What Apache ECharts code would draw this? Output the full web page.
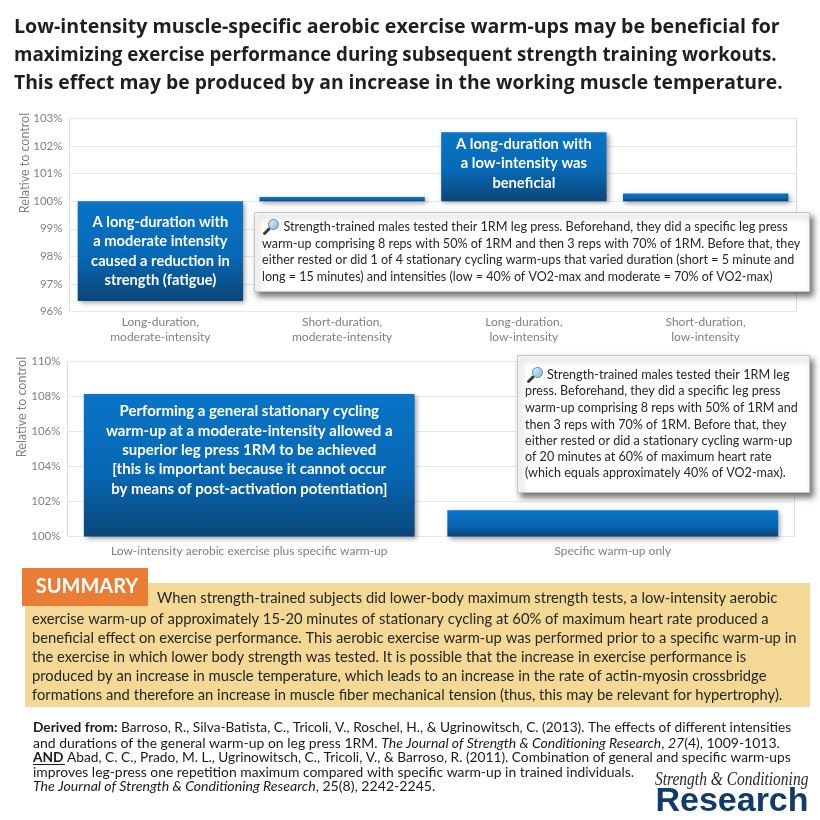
<!DOCTYPE html>
<html>
<head>
<meta charset="utf-8">
<title>Warm-ups</title>
<script src="https://cdn.jsdelivr.net/npm/echarts@6/dist/echarts.min.js"></script>
<style>
  html, body { margin: 0; padding: 0; background: #fff; }
  #main { width: 820px; height: 820px; }
</style>
</head>
<body>
<div id="main"></div>
<script>
// top chart
const topCategories = ['Long-duration,\nmoderate-intensity', 'Short-duration,\nmoderate-intensity', 'Long-duration,\nlow-intensity', 'Short-duration,\nlow-intensity'];
const topValues = [96.38, 100.15, 102.5, 100.28];
const topBarText = ['A long-duration with\na moderate intensity\ncaused a reduction in\nstrength (fatigue)', '', 'A long-duration with\na low-intensity was\nbeneficial', ''];
const topBarTextShift = [0, 0, -3, 0];

// bottom chart
const bottomCategories = ['Low-intensity aerobic exercise plus specific warm-up', 'Specific warm-up only'];
const bottomValues = [108.15, 101.5];
const bottomBarText = ['Performing a general stationary cycling\nwarm-up at a moderate-intensity allowed a\nsuperior leg press 1RM to be achieved\n[this is important because it cannot occur\nby means of post-activation potentiation]', ''];
const bottomBarTextShift = [-15, 0];

const titleLines = [
  'Low-intensity muscle-specific aerobic exercise warm-ups may be beneficial for',
  'maximizing exercise performance during subsequent strength training workouts.',
  'This effect may be produced by an increase in the working muscle temperature.'
];
const topNoteLines = [
  'Strength-trained males tested their 1RM leg press. Beforehand, they did a specific leg press',
  'warm-up comprising 8 reps with 50% of 1RM and then 3 reps with 70% of 1RM. Before that, they',
  'either rested or did 1 of 4 stationary cycling warm-ups that varied duration (short = 5 minute and',
  'long = 15 minutes) and intensities (low = 40% of VO2-max and moderate = 70% of VO2-max)'
];
const bottomNoteLines = [
  'Strength-trained males tested their 1RM leg',
  'press. Beforehand, they did a specific leg press',
  'warm-up comprising 8 reps with 50% of 1RM and',
  'then 3 reps with 70% of 1RM. Before that, they',
  'either rested or did a stationary cycling warm-up',
  'of 20 minutes at 60% of maximum heart rate',
  '(which equals approximately 40% of VO2-max).'
];
const summaryLines = [
  'When strength-trained subjects did lower-body maximum strength tests, a low-intensity aerobic',
  'exercise warm-up of approximately 15-20 minutes of stationary cycling at 60% of maximum heart rate produced a',
  'beneficial effect on exercise performance. This aerobic exercise warm-up was performed prior to a specific warm-up in',
  'the exercise in which lower body strength was tested. It is possible that the increase in exercise performance is',
  'produced by an increase in muscle temperature, which leads to an increase in the rate of actin-myosin crossbridge',
  'formations and therefore an increase in muscle fiber mechanical tension (thus, this may be relevant for hypertrophy).'
];
const citationLines = [
  '{b|Derived from:} Barroso, R., Silva-Batista, C., Tricoli, V., Roschel, H., & Ugrinowitsch, C. (2013). The effects of different intensities',
  'and durations of the general warm-up on leg press 1RM. {i|The Journal of Strength & Conditioning Research}, {i|27}(4), 1009-1013.',
  '{b|AND} Abad, C. C., Prado, M. L., Ugrinowitsch, C., Tricoli, V., & Barroso, R. (2011). Combination of general and specific warm-ups',
  'improves leg-press one repetition maximum compared with specific warm-up in trained individuals.',
  '{i|The Journal of Strength & Conditioning Research}, 25(8), 2242-2245.'
];

const bodyFont = 'Lato';
const tickColor = '#7f7f7f';

function barGradient() {
  return new echarts.graphic.LinearGradient(0, 0, 0, 1, [
    { offset: 0, color: '#0a74c6' },
    { offset: 0.55, color: '#0768b5' },
    { offset: 1, color: '#0b4678' }
  ]);
}

// bars start from 100%, so the axes run on the difference from 100
function barData(values, texts, shifts) {
  return values.map(function (v, i) {
    return {
      value: +(v - 100).toFixed(2),
      label: { formatter: texts[i], show: texts[i] !== '', offset: [0, shifts[i]] }
    };
  });
}

// scales squeezes each line to the width it has in the picture
function textLines(lines, x, ys, font, scales) {
  return lines.map(function (line, i) {
    return {
      type: 'text',
      z: 110,
      x: x[i] === undefined ? x[x.length - 1] : x[i],
      y: ys[i],
      scaleX: scales ? scales[i] : 1,
      style: Object.assign({
        text: line,
        fill: '#262626',
        verticalAlign: 'middle',
        fontFamily: bodyFont
      }, font)
    };
  });
}

function noteBox(x, y, w, h) {
  return {
    type: 'rect',
    z: 100,
    shape: { x: x, y: y, width: w, height: h },
    style: {
      fill: '#fff',
      stroke: '#c4c4c4',
      lineWidth: 1,
      shadowBlur: 6,
      shadowOffsetX: 3,
      shadowOffsetY: 4,
      shadowColor: 'rgba(0,0,0,0.55)'
    }
  };
}

function magnifier(x, y) {
  return {
    type: 'group',
    x: x,
    y: y,
    z: 110,
    children: [
      { type: 'line', z: 110, shape: { x1: 6, y1: 10, x2: 1.5, y2: 14.5 }, style: { stroke: '#3b3b3b', lineWidth: 3, lineCap: 'round' } },
      {
        type: 'circle', z: 111, shape: { cx: 10.5, cy: 5.5, r: 5 },
        style: {
          fill: new echarts.graphic.LinearGradient(0, 0, 1, 1, [
            { offset: 0, color: '#e4f2fb' },
            { offset: 1, color: '#7fb4dc' }
          ]),
          stroke: '#5f87a6',
          lineWidth: 1
        }
      }
    ]
  };
}

const graphics = [].concat(
  textLines(titleLines, [14], [27, 55, 83], { fontFamily: 'Open Sans', fontWeight: 'bold', fontSize: 19.6, fill: '#1f1f1f' }, [1, 0.958, 0.985]),
  [noteBox(254.5, 212.5, 555, 79)],
  [magnifier(263, 219)],
  textLines(topNoteLines, [283.5, 262], [227, 243.5, 260, 276.5], { fontSize: 13.3 }, [0.952, 0.945, 0.945, 0.94]),
  [noteBox(517.5, 355.5, 292, 137)],
  [magnifier(527, 367)],
  textLines(bottomNoteLines, [547, 525], [375, 391, 407.5, 424.5, 441, 457, 473], { fontSize: 13.3 }, [0.948, 0.945, 0.942, 0.945, 0.945, 0.945, 0.945]),
  [
    { type: 'rect', z: 100, shape: { x: 25, y: 583, width: 785, height: 124 }, style: { fill: '#f4d896' } },
    { type: 'rect', z: 101, shape: { x: 22, y: 568, width: 126, height: 38 }, style: { fill: '#ea7c34' } },
    { type: 'text', z: 110, x: 87, y: 587, style: { text: 'SUMMARY', fill: '#fff', fontFamily: bodyFont, fontWeight: 'bold', fontSize: 20, align: 'center', verticalAlign: 'middle' } }
  ],
  textLines(summaryLines, [157, 32], [598, 619, 638, 657, 676, 695], { fontSize: 15 }, [0.984, 0.985, 0.985, 0.985, 0.985, 0.985]),
  textLines(citationLines, [33], [728, 743.5, 758, 773, 787], {
    fontSize: 13.2,
    fill: '#1a1a1a',
    rich: {
      b: { fontWeight: 'bold', fontFamily: bodyFont, fontSize: 13.2, fill: '#1a1a1a' },
      i: { fontStyle: 'italic', fontFamily: bodyFont, fontSize: 13.2, fill: '#1a1a1a' }
    }
  }, [1.04, 1.06, 1.04, 1.053, 1.07]),
  [
    { type: 'line', z: 110, shape: { x1: 33, y1: 764.5, x2: 65, y2: 764.5 }, style: { stroke: '#1a1a1a', lineWidth: 1 } },
    { type: 'text', z: 110, x: 655, y: 780, scaleX: 0.86, style: { text: 'Strength & Conditioning', fill: '#2a2a2a', fontFamily: 'Liberation Serif', fontStyle: 'italic', fontSize: 18, verticalAlign: 'middle' } },
    { type: 'text', z: 110, x: 732, y: 802, style: { text: 'Research', fill: '#123a6b', fontFamily: 'Liberation Sans', fontWeight: 'bold', fontSize: 34, align: 'center', verticalAlign: 'middle' } }
  ]
);

function yAxis(gridIndex, min, max, interval, nameGap, nameShift) {
  return {
    type: 'value',
    gridIndex: gridIndex,
    min: min,
    max: max,
    interval: interval,
    name: 'Relative to control',
    nameLocation: 'middle',
    nameRotate: 90,
    nameGap: nameGap,
    nameMoveOverlap: false,
    // the title sits above the middle of the axis
    nameTextStyle: { color: tickColor, fontFamily: bodyFont, fontSize: 12.5, padding: [0, 0, 0, nameShift] },
    axisLine: { show: false },
    axisTick: { show: false },
    axisLabel: {
      color: tickColor,
      fontFamily: bodyFont,
      fontSize: 11.5,
      margin: 7,
      formatter: function (v) { return (100 + v) + '%'; }
    },
    splitLine: { lineStyle: { color: '#e8e8e8', width: 1 } }
  };
}

function xAxis(gridIndex, categories, margin) {
  return {
    type: 'category',
    gridIndex: gridIndex,
    data: categories,
    position: 'bottom',
    axisLine: { show: false, onZero: false },
    axisTick: { show: false },
    axisLabel: { color: tickColor, fontFamily: bodyFont, fontSize: 12, lineHeight: 15, margin: margin, interval: 0 }
  };
}

function barSeries(index, data, fontSize) {
  return {
    type: 'bar',
    xAxisIndex: index,
    yAxisIndex: index,
    barWidth: '91%',
    data: data,
    silent: true,
    itemStyle: {
      color: barGradient(),
      shadowBlur: 5,
      shadowOffsetX: 2,
      shadowOffsetY: 2,
      shadowColor: 'rgba(0,0,0,0.4)'
    },
    label: {
      position: 'inside',
      color: '#fff',
      fontFamily: bodyFont,
      fontWeight: 'bold',
      fontSize: fontSize,
      lineHeight: 19.3,
      align: 'center'
    }
  };
}

const chart = echarts.init(document.getElementById('main'));
chart.setOption({
  animation: false,
  backgroundColor: '#fff',
  grid: [
    { left: 69.5, top: 118.5, width: 727, height: 193, show: true, borderColor: '#dcdcdc', borderWidth: 1 },
    { left: 67.5, top: 361.5, width: 727, height: 175, show: true, borderColor: '#dcdcdc', borderWidth: 1 }
  ],
  xAxis: [xAxis(0, topCategories, 3), xAxis(1, bottomCategories, 7)],
  yAxis: [yAxis(0, -4, 3, 1, 38, 104), yAxis(1, 0, 10, 2, 39.5, 84)],
  series: [
    barSeries(0, barData(topValues, topBarText, topBarTextShift), 14.7),
    barSeries(1, barData(bottomValues, bottomBarText, bottomBarTextShift), 15)
  ],
  graphic: graphics
});
</script>
</body>
</html>
